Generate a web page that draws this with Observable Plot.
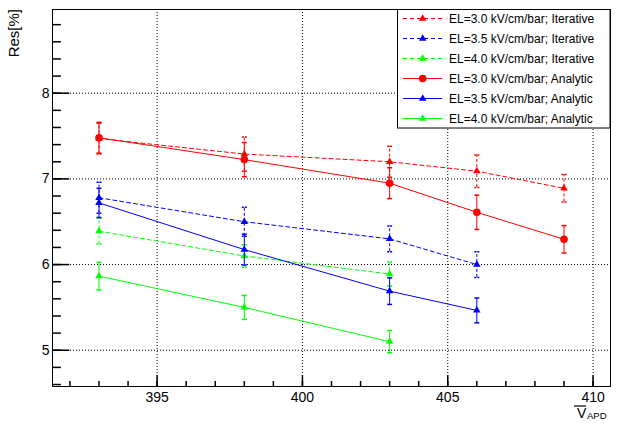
<!DOCTYPE html>
<html>
<head>
<meta charset="utf-8">
<script src="https://cdn.jsdelivr.net/npm/d3@7"></script>
<script src="https://cdn.jsdelivr.net/npm/@observablehq/plot@0.6"></script>
<style>
  html, body { margin: 0; padding: 0; background: #fff; }
  #chart { width: 625px; height: 430px; }
</style>
</head>
<body>
<div id="chart"></div>
<script>
// ---- data ----
const voltages = [393, 398, 403, 406, 409];

const iter30 = [7.47, 7.29, 7.20, 7.09, 6.89];
const iter30Err = [0.18, 0.20, 0.18, 0.19, 0.16];
const iter35 = [6.78, 6.50, 6.30, 6.00];
const iter35Err = [0.18, 0.17, 0.15, 0.15];
const iter40 = [6.39, 6.10, 5.89];
const iter40Err = [0.15, 0.13, 0.14];

const ana30 = [7.48, 7.225, 6.95, 6.61, 6.295];
const ana30Err = [0.18, 0.20, 0.18, 0.20, 0.16];
const ana35 = [6.72, 6.175, 5.69, 5.465];
const ana35Err = [0.17, 0.18, 0.155, 0.145];
const ana40 = [5.865, 5.50, 5.10];
const ana40Err = [0.16, 0.14, 0.13];

const seriesLabels = [
  "EL=3.0 kV/cm/bar; Iterative",
  "EL=3.5 kV/cm/bar; Iterative",
  "EL=4.0 kV/cm/bar; Iterative",
  "EL=3.0 kV/cm/bar; Analytic",
  "EL=3.5 kV/cm/bar; Analytic",
  "EL=4.0 kV/cm/bar; Analytic"
];

const xMajor = [395, 400, 405, 410];
const xMinor = d3.range(392, 411, 1);
const yMajor = [5, 6, 7, 8];
const yMinor = d3.range(4.6, 8.95, 0.2).map(v => +v.toFixed(1));
const xLabels = ["395", "400", "405", "410"];
const yLabels = ["5", "6", "7", "8"];

// ---- styles ----
const FONT = "'Liberation Sans', Arial, Helvetica, sans-serif";
const styles = [
  {color: "#ff0000", dash: "4,3", errDash: "3,2", symbol: "triangle", r: 2.8},
  {color: "#0000ff", dash: "4,3", errDash: "3,2", symbol: "triangle", r: 2.8},
  {color: "#00ff00", dash: "4,3", errDash: "3,2", symbol: "triangle", r: 2.8},
  {color: "#ff0000", dash: null, errDash: null, symbol: "circle", r: 3.8},
  {color: "#0000ff", dash: null, errDash: null, symbol: "triangle", r: 2.8},
  {color: "#00ff00", dash: null, errDash: null, symbol: "triangle", r: 2.8}
];
const values = [iter30, iter35, iter40, ana30, ana35, ana40];
const errors = [iter30Err, iter35Err, iter40Err, ana30Err, ana35Err, ana40Err];

const series = values.map((vals, i) =>
  vals.map((v, j) => ({x: voltages[j], y: v, e: errors[i][j]}))
);

// custom symbols (pixel-sized)
const lineSym = (dx, dy) => ({draw(ctx) { ctx.moveTo(0, 0); ctx.lineTo(dx, dy); }});
const capSym = {draw(ctx) { ctx.moveTo(-2.5, 0); ctx.lineTo(2.5, 0); }};

const xDomain = [391.4, 410.6];
const yDomain = [4.577, 8.977];

const marks = [
  // grid
  Plot.ruleX(xMajor, {stroke: "black", strokeDasharray: "1,2", strokeWidth: 1}),
  Plot.ruleY(yMajor, {stroke: "black", strokeDasharray: "1,2", strokeWidth: 1}),
  // ticks (inside frame)
  Plot.dot(xMinor, {x: d => d, frameAnchor: "bottom", symbol: lineSym(0, -5.5), stroke: "black", fill: "none"}),
  Plot.dot(xMajor, {x: d => d, frameAnchor: "bottom", symbol: lineSym(0, -11.3), stroke: "black", fill: "none"}),
  Plot.dot(yMinor, {y: d => d, frameAnchor: "left", symbol: lineSym(8.4, 0), stroke: "black", fill: "none"}),
  Plot.dot(yMajor, {y: d => d, frameAnchor: "left", symbol: lineSym(16.8, 0), stroke: "black", fill: "none"}),
  // tick labels
  Plot.text(xMajor, {x: d => d, text: (d, i) => xLabels[i], frameAnchor: "bottom", lineAnchor: "top", dy: 6, fontSize: 14, fill: "black"}),
  Plot.text(yMajor, {y: d => d, text: (d, i) => yLabels[i], frameAnchor: "left", textAnchor: "end", dx: -3, fontSize: 14, fill: "black"})
];

series.forEach((data, i) => {
  const s = styles[i];
  marks.push(
    Plot.line(data, {x: "x", y: "y", stroke: s.color, strokeWidth: 1, strokeDasharray: s.dash}),
    Plot.ruleX(data, {x: "x", y1: d => d.y - d.e, y2: d => d.y + d.e, stroke: s.color, strokeWidth: 1, strokeDasharray: s.errDash}),
    Plot.dot(data, {x: "x", y: d => d.y + d.e, symbol: capSym, stroke: s.color, fill: "none", strokeDasharray: s.errDash ? "2,1" : null}),
    Plot.dot(data, {x: "x", y: d => d.y - d.e, symbol: capSym, stroke: s.color, fill: "none", strokeDasharray: s.errDash ? "2,1" : null}),
    Plot.dot(data, {x: "x", y: "y", symbol: s.symbol, r: s.r, fill: s.color, stroke: "none"})
  );
});

marks.push(Plot.frame({stroke: "black", strokeWidth: 1}));

const chart = Plot.plot({
  width: 625,
  height: 430,
  marginLeft: 52,
  marginRight: 15,
  marginTop: 9,
  marginBottom: 44,
  x: {domain: xDomain, axis: null},
  y: {domain: yDomain, axis: null},
  style: {fontFamily: FONT, background: "white", color: "black"},
  marks
});

document.getElementById("chart").appendChild(chart);

// ---- axis titles and legend ----
const svg = d3.select(chart);
svg.append("text")
  .attr("transform", "translate(19,9) rotate(-90)")
  .attr("text-anchor", "end")
  .attr("font-family", FONT)
  .attr("font-size", 15)
  .attr("fill", "black")
  .text("Res[%]");

const xt = svg.append("g").attr("font-family", FONT).attr("fill", "black").attr("text-anchor", "start");
xt.append("text").attr("x", 577).attr("y", 418).attr("font-size", 14).text("V");
xt.append("line").attr("x1", 574).attr("x2", 586).attr("y1", 406).attr("y2", 406)
  .attr("stroke", "black").attr("stroke-width", 1.2);
xt.append("text").attr("x", 587).attr("y", 418.5).attr("font-size", 9.5).text("APD");

const lg = svg.append("g").attr("font-family", FONT).attr("text-anchor", "start");
lg.append("rect").attr("x", 397.5).attr("y", 9.5).attr("width", 212.5).attr("height", 118.5)
  .attr("fill", "white").attr("stroke", "black").attr("stroke-width", 1);
seriesLabels.forEach((label, i) => {
  const s = styles[i];
  const y = 18.5 + i * 20;
  lg.append("line").attr("x1", 403).attr("x2", 442).attr("y1", y).attr("y2", y)
    .attr("stroke", s.color).attr("stroke-width", 1)
    .attr("stroke-dasharray", s.dash);
  const sym = s.symbol === "circle" ? d3.symbolCircle : d3.symbolTriangle;
  lg.append("path").attr("d", d3.symbol(sym, Math.PI * s.r * s.r)())
    .attr("transform", `translate(422.7,${y})`).attr("fill", s.color);
  lg.append("text").attr("x", 449).attr("y", y + 4.3).attr("font-size", 12)
    .attr("fill", "black").attr("text-anchor", "start").text(label);
});
</script>
</body>
</html>
